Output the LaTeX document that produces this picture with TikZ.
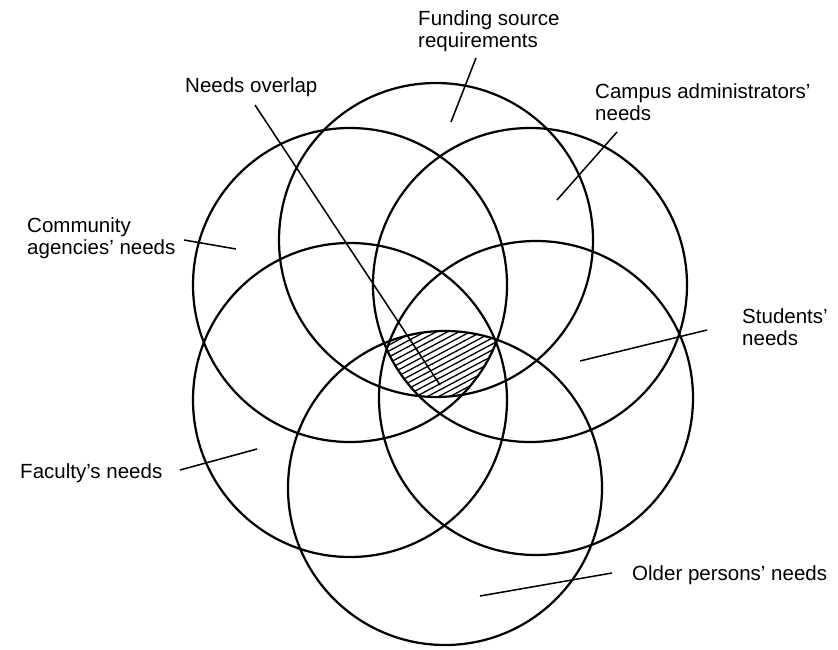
\documentclass[tikz,border=0pt]{standalone}
\usepackage{fontspec}
\setmainfont{Liberation Sans}
\tikzset{
  ring/.style={line width=1.9pt, radius=47.1mm},
  pointer/.style={line width=1.3pt},
  hatch/.style={line width=1.1pt},
  lbl/.style={anchor=north west, inner sep=0pt, align=left, font=\fontsize{17.5}{19}\selectfont}
}
\begin{document}
\begin{tikzpicture}[x=0.3mm, y=-0.3mm]
\useasboundingbox (0,0) rectangle (838,649);
\coordinate (fundc) at (436,240);
\coordinate (commc) at (350,285);
\coordinate (campc) at (530,285);
\coordinate (facc)  at (350,400);
\coordinate (studc) at (536,398);
\coordinate (oldc)  at (445,488);
% hatched overlap
\begin{scope}
  \clip (oldc) circle[radius=47.1mm];
  \clip (fundc) circle[radius=47.1mm];
  \clip (commc) circle[radius=47.1mm];
  \clip (campc) circle[radius=47.1mm];
  \foreach \k in {0,...,26}
    \draw[hatch] (370,325+6*\k) -- (530,325+6*\k-85);
\end{scope}
\foreach \c in {fundc,commc,campc,facc,studc,oldc}
  \draw[ring] (\c) circle;
% labels
\node[lbl] (fund)    at (418,10)  {Funding source\\requirements};
\node[lbl] (overlap) at (185,77)  {Needs overlap};
\node[lbl] (campus)  at (595,83)  {Campus administrators'\\needs};
\node[lbl] (comm)    at (27,217)  {Community\\agencies' needs};
\node[lbl] (stud)    at (742,308) {Students'\\needs};
\node[lbl] (fac)     at (20,463)  {Faculty's needs};
\node[lbl] (older)   at (632,565) {Older persons' needs};
\coordinate (fund-tip)    at (451,122);
\coordinate (overlap-tip) at (440,385);
\coordinate (campus-tip)  at (557,200);
\coordinate (comm-tip)    at (236,249);
\coordinate (stud-tip)    at (580,361);
\coordinate (fac-tip)     at (257,449);
\coordinate (older-tip)   at (480,596);
\draw[pointer] ([shift={(58,48)}]fund.north west) -- (fund-tip);
\draw[pointer] ([shift={(70,28)}]overlap.north west) -- (overlap-tip);
\draw[pointer] ([shift={(22,49)}]campus.north west) -- (campus-tip);
\draw[pointer] ([shift={(157,23)}]comm.north west) -- (comm-tip);
\draw[pointer] ([shift={(-35,22)}]stud.north west) -- (stud-tip);
\draw[pointer] ([shift={(160,7)}]fac.north west) -- (fac-tip);
\draw[pointer] ([shift={(-20,8)}]older.north west) -- (older-tip);
\end{tikzpicture}
\end{document}
